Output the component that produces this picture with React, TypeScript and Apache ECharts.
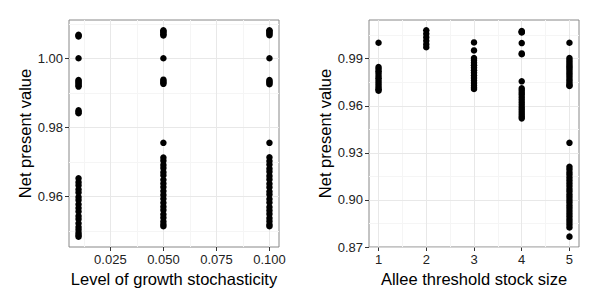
import React, { useEffect, useRef } from "react";
import * as echarts from "echarts";

// ---------- Left panel: Level of growth stochasticity ----------
const STOCH_LEVELS = [0.01, 0.05, 0.1];
const npvStoch001 = [
  1.0063, 1.0066, 1.0068, 1.0, 0.9918, 0.9922, 0.9926, 0.993, 0.9934, 0.9937,
  0.9841, 0.9845, 0.9849, 0.9652, 0.9641, 0.9632, 0.962, 0.9611, 0.9598,
  0.9589, 0.9577, 0.9566, 0.9556, 0.9543, 0.9534, 0.9522, 0.9511, 0.9503,
  0.9494, 0.9488, 0.9483,
];
const npvStoch005 = [
  1.0066, 1.007, 1.0074, 1.0078, 1.0081, 1.0, 0.9926, 0.993, 0.9934, 0.9938,
  0.9755, 0.9712, 0.9703, 0.9691, 0.9682, 0.967, 0.9661, 0.9648, 0.9637,
  0.9627, 0.9615, 0.9604, 0.9593, 0.9581, 0.957, 0.956, 0.9548, 0.9538,
  0.9527, 0.9519, 0.9513,
];
const npvStoch010 = [
  1.0067, 1.0071, 1.0075, 1.0079, 1.0081, 1.0, 0.9925, 0.9929, 0.9933, 0.9937,
  0.9755, 0.9713, 0.9702, 0.9692, 0.968, 0.9671, 0.9659, 0.9649, 0.9636,
  0.9626, 0.9614, 0.9605, 0.9592, 0.9582, 0.9569, 0.9559, 0.9549, 0.9537,
  0.9528, 0.9518, 0.9513,
];
const LEFT_X_TICKS = [0.025, 0.05, 0.075, 0.1];
const LEFT_X_MINOR = [0.0125, 0.0375, 0.0625, 0.0875];
const LEFT_Y_TICKS = [0.96, 0.98, 1.0];
const LEFT_Y_MINOR = [0.95, 0.97, 0.99, 1.01];
const LEFT_X_RANGE = [0.0055, 0.1045];
const LEFT_Y_RANGE = [0.9453, 1.0111];

// ---------- Right panel: Allee threshold stock size ----------
const ALLEE_SIZES = [1, 2, 3, 4, 5];
const npvAllee1 = [
  1.0002, 0.9847, 0.9835, 0.982, 0.9806, 0.979, 0.9776, 0.976, 0.9745,
  0.9731, 0.9717, 0.9705, 0.9696,
];
const npvAllee2 = [1.0081, 1.0059, 1.0037, 1.0014, 0.9992, 0.9973];
const npvAllee3 = [
  1.0004, 0.9953, 0.9904, 0.9891, 0.9875, 0.9859, 0.9842, 0.9827, 0.981,
  0.9794, 0.9778, 0.9762, 0.9746, 0.9731, 0.9718, 0.9707,
];
const npvAllee4 = [
  1.0076, 1.0071, 1.0067, 1.0, 0.9934, 0.9929, 0.9756, 0.9712, 0.9699,
  0.9684, 0.967, 0.9654, 0.9639, 0.9622, 0.9607, 0.9591, 0.9576, 0.9561,
  0.9546, 0.9532, 0.952,
];
const npvAllee5 = [
  1.0002, 0.9905, 0.9891, 0.9877, 0.9864, 0.9851, 0.984, 0.9826, 0.9812,
  0.9799, 0.9785, 0.977, 0.9756, 0.9742, 0.9731, 0.9726, 0.9364, 0.9211,
  0.9195, 0.9176, 0.916, 0.9141, 0.9124, 0.9106, 0.9089, 0.907, 0.9053,
  0.9035, 0.9018, 0.9, 0.8983, 0.8965, 0.8948, 0.893, 0.8912, 0.8895, 0.8877,
  0.886, 0.8842, 0.8824, 0.8766,
];
const RIGHT_X_TICKS = [1, 2, 3, 4, 5];
const RIGHT_X_MINOR = [1.5, 2.5, 3.5, 4.5];
const RIGHT_Y_TICKS = [0.87, 0.9, 0.93, 0.96, 0.99];
const RIGHT_Y_MINOR = [0.885, 0.915, 0.945, 0.975, 1.005];
const RIGHT_X_RANGE = [0.8, 5.2];
const RIGHT_Y_RANGE = [0.87, 1.0147];

const FONT = "Liberation Sans, Arial, Helvetica, sans-serif";
const MAJOR_GRID = "#e8e8e8";
const MINOR_GRID = "#f5f5f5";

function gridLines(
  xs: number[],
  ys: number[],
  xr: number[],
  yr: number[],
  idx: number,
  color: string,
  z: number
) {
  const data: any[] = [];
  xs.forEach((x) => data.push({ coords: [[x, yr[0]], [x, yr[1]]] }));
  ys.forEach((y) => data.push({ coords: [[xr[0], y], [xr[1], y]] }));
  return {
    type: "lines",
    coordinateSystem: "cartesian2d",
    xAxisIndex: idx,
    yAxisIndex: idx,
    silent: true,
    z,
    polyline: false,
    symbol: ["none", "none"],
    lineStyle: { color, width: 1, opacity: 1, type: "solid" },
    data,
  };
}

function xAxisDef(
  idx: number,
  range: number[],
  ticks: number[],
  fmt: (v: number) => string,
  name: string
) {
  return {
    type: "value",
    gridIndex: idx,
    min: range[0],
    max: range[1],
    axisLine: { show: false },
    splitLine: { show: false },
    axisTick: {
      show: true,
      customValues: ticks,
      length: 4,
      lineStyle: { color: "#333", width: 1 },
    },
    axisLabel: {
      customValues: ticks,
      formatter: (v: number) => fmt(v),
      fontSize: 13,
      color: "#222",
      margin: 6,
      fontFamily: FONT,
    },
    name,
    nameLocation: "middle",
    nameGap: 23,
    nameTextStyle: { fontSize: 16.5, color: "#000", fontFamily: FONT },
  };
}

function yAxisDef(
  idx: number,
  range: number[],
  ticks: number[],
  fmt: (v: number) => string
) {
  return {
    type: "value",
    gridIndex: idx,
    min: range[0],
    max: range[1],
    axisLine: { show: false },
    splitLine: { show: false },
    axisTick: {
      show: true,
      customValues: ticks,
      length: 4,
      lineStyle: { color: "#333", width: 1 },
    },
    axisLabel: {
      customValues: ticks,
      formatter: (v: number) => fmt(v),
      fontSize: 13,
      color: "#222",
      margin: 6,
      fontFamily: FONT,
    },
    name: "Net present value",
    nameLocation: "middle",
    nameGap: 36,
    nameTextStyle: { fontSize: 16.5, color: "#000", fontFamily: FONT },
  };
}

function scatter(idx: number, x: number, ys: number[]) {
  return {
    type: "scatter",
    xAxisIndex: idx,
    yAxisIndex: idx,
    symbol: "circle",
    symbolSize: 6.5,
    z: 5,
    itemStyle: { color: "#000", opacity: 1 },
    data: ys.map((y) => [x, y]),
  };
}

export default function App() {
  const ref = useRef<HTMLDivElement>(null);
  useEffect(() => {
    if (!ref.current) return;
    const chart = echarts.init(ref.current, undefined, { renderer: "svg" });
    const leftSeries = [npvStoch001, npvStoch005, npvStoch010].map((ys, i) =>
      scatter(0, STOCH_LEVELS[i], ys)
    );
    const rightSeries = [npvAllee1, npvAllee2, npvAllee3, npvAllee4, npvAllee5].map(
      (ys, i) => scatter(1, ALLEE_SIZES[i], ys)
    );
    chart.setOption({
      animation: false,
      backgroundColor: "#fff",
      grid: [
        {
          left: 69,
          right: 321,
          top: 20,
          bottom: 53,
          show: true,
          borderColor: "#888",
          borderWidth: 1,
          backgroundColor: "#fff",
        },
        {
          left: 369,
          right: 21,
          top: 20,
          bottom: 53,
          show: true,
          borderColor: "#888",
          borderWidth: 1,
          backgroundColor: "#fff",
        },
      ],
      xAxis: [
        xAxisDef(0, LEFT_X_RANGE, LEFT_X_TICKS, (v) => v.toFixed(3), "Level of growth stochasticity"),
        xAxisDef(1, RIGHT_X_RANGE, RIGHT_X_TICKS, (v) => String(Math.round(v)), "Allee threshold stock size"),
      ],
      yAxis: [
        yAxisDef(0, LEFT_Y_RANGE, LEFT_Y_TICKS, (v) => v.toFixed(2)),
        yAxisDef(1, RIGHT_Y_RANGE, RIGHT_Y_TICKS, (v) => v.toFixed(2)),
      ],
      series: [
        gridLines(LEFT_X_MINOR, LEFT_Y_MINOR, LEFT_X_RANGE, LEFT_Y_RANGE, 0, MINOR_GRID, 1),
        gridLines(LEFT_X_TICKS, LEFT_Y_TICKS, LEFT_X_RANGE, LEFT_Y_RANGE, 0, MAJOR_GRID, 2),
        gridLines(RIGHT_X_MINOR, RIGHT_Y_MINOR, RIGHT_X_RANGE, RIGHT_Y_RANGE, 1, MINOR_GRID, 1),
        gridLines(RIGHT_X_TICKS, RIGHT_Y_TICKS, RIGHT_X_RANGE, RIGHT_Y_RANGE, 1, MAJOR_GRID, 2),
        ...leftSeries,
        ...rightSeries,
      ],
    });
    return () => chart.dispose();
  }, []);
  return (
    <div
      ref={ref}
      style={{ position: "fixed", left: 0, top: 0, width: 600, height: 300 }}
    />
  );
}
